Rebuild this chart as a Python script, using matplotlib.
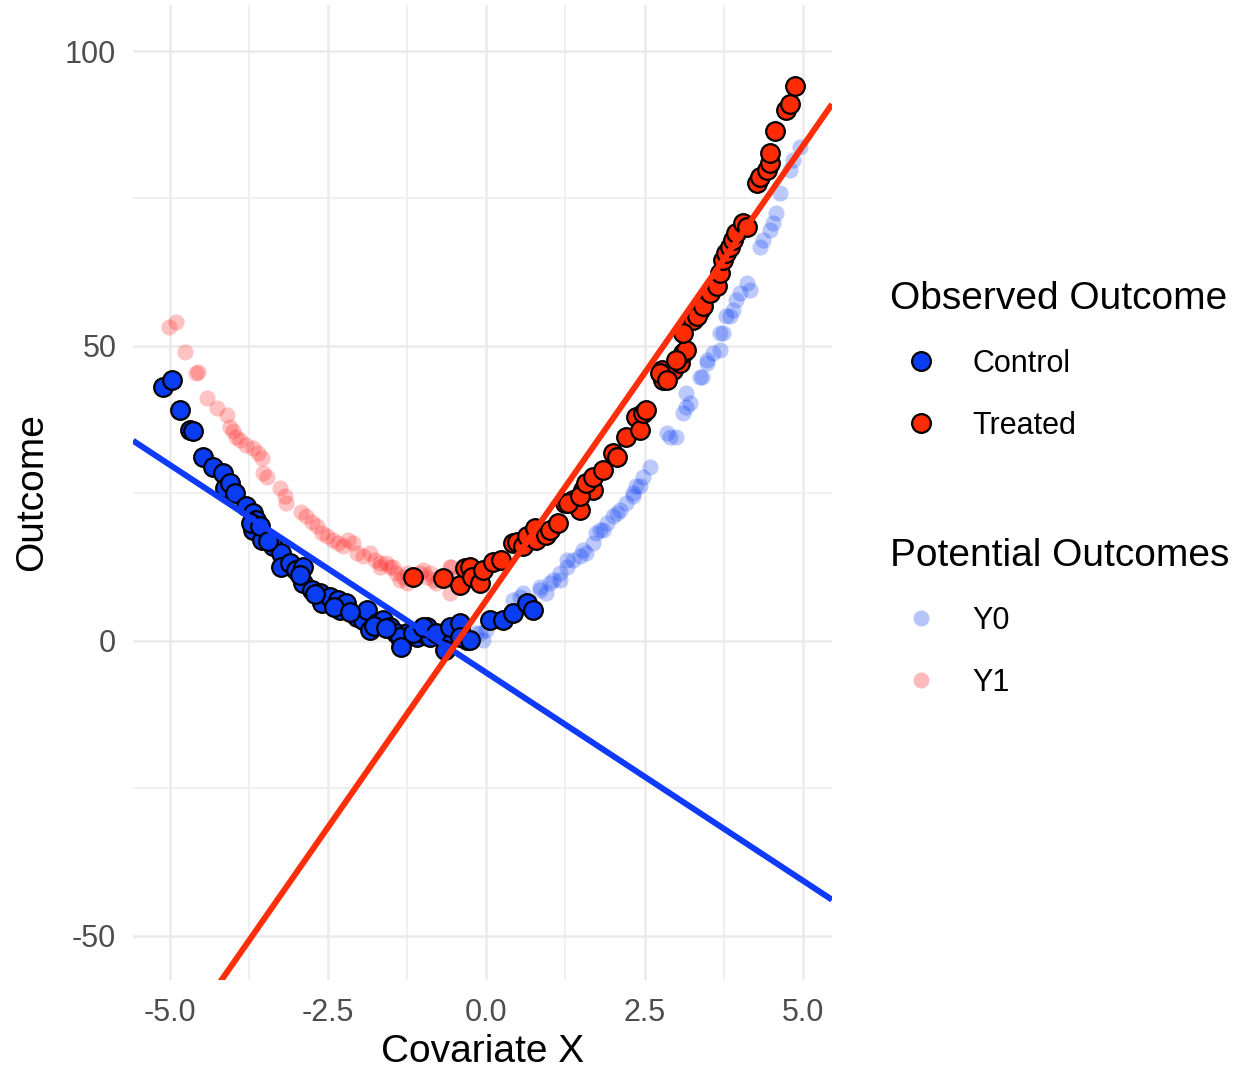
import numpy as np
import matplotlib
matplotlib.use("Agg")
import matplotlib.pyplot as plt
from matplotlib.lines import Line2D

plt.rcParams['font.family'] = ['Liberation Sans', 'DejaVu Sans']
plt.rcParams['axes.unicode_minus'] = False

# ---- observed outcomes ----
control_x = [-5.11, -4.97, -4.83, -4.68, -4.63, -4.47, -4.32, -4.16, -4.13, -4.05, -3.97, -3.79,
             -3.68, -3.63, -3.68, -3.55, -3.37, -3.24, -3.24, -3.10, -3.00, -2.89, -2.89, -2.76,
             -2.63, -2.60, -2.47, -2.34, -2.31, -2.21, -2.05, -1.95, -1.89, -1.84, -1.73, -1.63,
             -1.52, -1.42, -1.34, -1.26, -1.10, -1.00, -0.89, -0.94, -0.68, -0.63, -0.42, -0.31,
             -1.37, -1.34, -1.16, -1.00, -0.79, -0.66, -0.58, -0.42, -0.42, -0.26, 0.06, 0.27,
             0.42, 0.64, 0.74, -3.72, -3.58, -3.45, -2.95, -2.70, -2.40, -2.15, -1.78, -1.58]
control_y = [43.1, 44.2, 39.2, 35.8, 35.5, 31.2, 29.5, 28.4, 25.9, 26.7, 25.0, 22.8,
             21.6, 20.5, 18.8, 17.1, 16.0, 14.9, 12.6, 13.2, 12.0, 12.6, 9.8, 8.6,
             8.1, 6.4, 7.5, 6.9, 5.3, 6.4, 4.1, 3.6, 5.3, 1.9, 3.0, 3.6,
             2.4, 1.3, 0.2, 1.3, 0.7, 1.3, 0.7, 2.4, 1.3, -0.4, 2.4, 0.2,
             0.7, -1.0, 1.3, 2.4, 1.3, -1.5, 2.4, 3.0, 0.7, 0.2, 3.6, 3.6,
             4.7, 6.4, 5.3, 20.0, 19.4, 16.9, 11.2, 7.9, 5.8, 4.9, 2.6, 2.1]

treated_x = [-1.16, -0.68, -0.42, -0.34, -0.26, -0.23, -0.10, -0.05, 0.11, 0.24, 0.42, 0.48,
             0.58, 0.64, 0.77, 0.79, 0.95, 1.00, 1.13, 1.24, 1.37, 1.48, 1.53, 1.69,
             1.29, 1.48, 1.58, 1.69, 1.85, 2.00, 2.06, 2.21, 2.37, 2.43, 2.48, 2.53,
             2.79, 2.77, 2.95, 3.06, 3.11, 3.16, 3.27, 3.37, 2.74, 2.85, 3.00, 3.11,
             3.32, 3.42, 3.53, 3.64, 3.69, 3.74, 3.79, 3.85, 3.90, 3.95, 4.06, 4.11,
             4.27, 4.32, 4.43, 4.48, 4.48, 4.56, 4.74, 4.79, 4.87]
treated_y = [10.9, 10.6, 9.5, 12.3, 12.6, 10.9, 9.8, 12.0, 13.4, 13.7, 16.6, 16.8,
             16.0, 17.7, 19.1, 17.1, 18.0, 18.8, 19.9, 23.3, 23.9, 22.2, 25.6, 25.6,
             23.3, 24.5, 26.7, 27.8, 29.0, 31.8, 31.2, 34.6, 38.0, 35.8, 38.6, 39.2,
             44.2, 45.9, 45.9, 47.1, 48.8, 49.3, 54.4, 56.1, 45.4, 44.2, 47.6, 52.2,
             55.0, 56.7, 58.9, 60.1, 62.3, 64.6, 65.7, 66.8, 68.0, 69.1, 70.8, 70.2,
             77.6, 78.7, 79.8, 81.0, 82.7, 86.4, 90.0, 91.1, 94.0]

# ---- potential outcomes (visible, faint) ----
y0_x = [-0.16, -0.05, 0.00, -0.10, 0.42, 0.53, 0.58, 0.85, 0.85, 0.95, 1.00, 1.06,
        1.16, 1.16, 1.27, 1.27, 1.37, 1.48, 1.53, 1.58, 1.69, 1.74, 1.79, 1.85,
        1.90, 2.00, 2.06, 2.11, 2.21, 2.32, 2.32, 2.37, 2.43, 2.48, 2.58, 2.85,
        2.90, 3.00, 3.11, 3.16, 3.16, 3.21, 3.37, 3.40, 3.48, 3.48, 3.58, 3.69,
        3.69, 3.74, 3.79, 3.85, 3.90, 3.95, 4.00, 4.11, 4.16, 4.32, 4.37, 4.48,
        4.53, 4.58, 4.64, 4.79, 4.84, 4.95]
y0_y = [1.3, 0.2, 1.9, 1.3, 6.9, 7.5, 8.1, 8.6, 9.2, 8.1, 9.8, 10.3,
        11.5, 10.3, 12.6, 13.7, 13.7, 14.3, 15.4, 14.9, 16.6, 18.3, 18.8, 18.8,
        19.9, 21.1, 21.6, 22.2, 23.3, 24.5, 25.0, 26.2, 26.2, 27.8, 29.5, 35.2,
        34.6, 34.6, 38.6, 39.7, 42.0, 40.3, 44.8, 44.8, 47.6, 47.1, 48.8, 49.3,
        52.2, 52.2, 55.0, 55.0, 56.1, 57.8, 58.9, 60.6, 59.5, 66.8, 68.0, 69.7,
        70.8, 72.5, 75.9, 79.8, 81.5, 83.8]

y1_x = [-5.01, -4.90, -4.76, -4.58, -4.55, -4.41, -4.25, -4.10, -4.05, -4.00, -3.95, -3.89,
        -3.79, -3.68, -3.60, -3.55, -3.53, -3.47, -3.26, -3.18, -3.16, -2.92, -2.84, -2.76,
        -2.68, -2.60, -2.52, -2.42, -2.34, -2.26, -2.18, -2.10, -2.05, -1.95, -1.84, -1.76,
        -1.68, -1.68, -1.58, -1.52, -1.47, -1.42, -1.37, -1.31, -1.26, -1.26, -1.05, -1.00,
        -0.94, -0.89, -0.84, -0.79, -0.58, -0.58, -0.47, -0.55]
y1_y = [53.2, 54.1, 49.0, 45.4, 45.6, 41.1, 39.5, 38.3, 36.3, 35.5, 34.6, 34.1,
        33.2, 32.7, 31.8, 31.0, 28.4, 27.8, 25.9, 24.5, 23.3, 21.9, 21.1, 20.2,
        19.4, 18.3, 17.7, 17.1, 16.6, 16.0, 17.1, 16.6, 14.9, 14.3, 14.9, 13.7,
        12.6, 13.2, 13.2, 12.6, 12.6, 11.5, 10.3, 10.9, 9.8, 11.5, 11.5, 12.0,
        10.9, 11.5, 10.3, 9.8, 8.1, 12.6, 10.9, 12.6]

# ---- fitted regression lines (slope, intercept) ----
fit_control = (-7.05, -5.4)
fit_treated = (15.4, 6.9)

x_ticks = [-5.0, -2.5, 0.0, 2.5, 5.0]
y_ticks = [-50, 0, 50, 100]

BLUE = '#0A3CF2'
RED = '#FF2B05'
FRED = '#FF2020'
LBLUE = '#0F3AFA'
LRED = '#FF2E0A'

W, H = 1236, 1070
fig = plt.figure(figsize=(W / 100, H / 100), dpi=100)
ax = fig.add_axes([133 / W, 1 - 980 / H, (832 - 133) / W, (980 - 5) / H])
ax.set_xlim(-5.58, 5.46)
ax.set_ylim(-57.5, 107.8)

ax.scatter(y0_x, y0_y, s=135, color=BLUE, alpha=0.27, linewidths=0, zorder=2)
ax.scatter(y1_x, y1_y, s=135, color=FRED, alpha=0.27, linewidths=0, zorder=2)
ax.scatter(control_x, control_y, s=180, color=BLUE, edgecolors='black', linewidths=1.6, zorder=3)
ax.scatter(treated_x, treated_y, s=180, color=RED, edgecolors='black', linewidths=1.6, zorder=3)

xs = np.array(ax.get_xlim())
ax.plot(xs, fit_control[0] * xs + fit_control[1], color=LBLUE, lw=4.3, zorder=4, solid_capstyle='butt')
ax.plot(xs, fit_treated[0] * xs + fit_treated[1], color=LRED, lw=4.3, zorder=4, solid_capstyle='butt')

ax.set_xticks(x_ticks)
ax.set_xticklabels([f"{v:.1f}" for v in x_ticks])
ax.set_yticks(y_ticks)
ax.set_yticklabels([str(v) for v in y_ticks])
ax.set_xticks([-3.75, -1.25, 1.25, 3.75], minor=True)
ax.set_yticks([-25, 25, 75], minor=True)
ax.grid(which='major', color='#EBEBEB', lw=1.8, zorder=0)
ax.grid(which='minor', color='#EEEEEE', lw=1.2, zorder=0)
ax.set_axisbelow(True)
ax.tick_params(which='both', length=0)
ax.tick_params(axis='x', pad=13, labelsize=22, labelcolor='#4D4D4D')
ax.tick_params(axis='y', pad=12, labelsize=22, labelcolor='#4D4D4D')
for s in ax.spines.values():
    s.set_visible(False)

ax.set_xlabel('Covariate X', fontsize=28)
ax.set_ylabel('Outcome', fontsize=28)
ax.xaxis.set_label_coords(0.5, -0.055)
ax.yaxis.set_label_coords(-0.118, 0.5)

h_obs = [Line2D([], [], ls='none', marker='o', ms=13.5, mfc=BLUE, mec='black', mew=1.6, label='Control'),
         Line2D([], [], ls='none', marker='o', ms=13.5, mfc=RED, mec='black', mew=1.6, label='Treated')]
h_pot = [Line2D([], [], ls='none', marker='o', ms=11.5, mfc=BLUE, mec='none', alpha=0.3, label='Y0'),
         Line2D([], [], ls='none', marker='o', ms=11.5, mfc=FRED, mec='none', alpha=0.3, label='Y1')]

common = dict(loc='upper left', bbox_transform=fig.transFigure, frameon=False, fontsize=22,
              title_fontsize=28, handlelength=2.0, handletextpad=0.69, labelspacing=1.05,
              borderpad=0, borderaxespad=0, alignment='left')
leg1 = ax.legend(handles=h_obs, title='Observed Outcome', bbox_to_anchor=(890 / W, 1 - 281 / H), **common)
ax.add_artist(leg1)
leg2 = ax.legend(handles=h_pot, title='Potential Outcomes', bbox_to_anchor=(890 / W, 1 - 538 / H), **common)

fig.savefig('out.png', dpi=100)
